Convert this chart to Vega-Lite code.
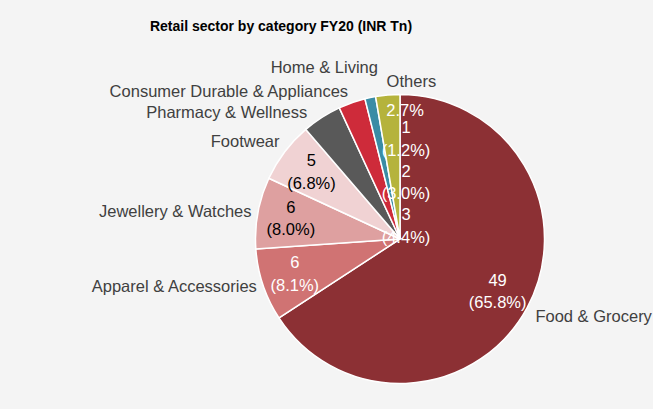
{
  "$schema": "https://vega.github.io/schema/vega-lite/v6.json",
  "width": 506,
  "height": 340,
  "autosize": {"type": "none"},
  "padding": {"left": 147, "top": 69, "right": 0, "bottom": 0},
  "background": "#F4F4F4",
  "config": {"view": {"stroke": null}, "text": {"font": "Liberation Sans"}},
  "title": {
    "text": "Retail sector by category FY20 (INR Tn)",
    "font": "Liberation Sans",
    "fontSize": 14,
    "fontWeight": "bold",
    "color": "#000000",
    "anchor": "middle",
    "frame": "group",
    "baseline": "alphabetic",
    "dx": -119,
    "offset": 12
  },
  "data": {
    "values": [
      {"order": 1, "category": "Food & Grocery", "value": 49, "share": 65.8, "label": "49\n(65.8%)"},
      {"order": 2, "category": "Apparel & Accessories", "value": 6, "share": 8.1, "label": "6\n(8.1%)"},
      {"order": 3, "category": "Jewellery & Watches", "value": 6, "share": 8.0, "label": "6\n(8.0%)"},
      {"order": 4, "category": "Footwear", "value": 5, "share": 6.8, "label": "5\n(6.8%)"},
      {"order": 5, "category": "Pharmacy & Wellness", "value": 3, "share": 4.4, "label": "3\n(4.4%)"},
      {"order": 6, "category": "Consumer Durable & Appliances", "value": 2, "share": 3.0, "label": "2\n(3.0%)"},
      {"order": 7, "category": "Home & Living", "value": 1, "share": 1.2, "label": "1\n(1.2%)"},
      {"order": 8, "category": "Others", "value": 2, "share": 2.7, "label": "2.7%"}
    ]
  },
  "layer": [
    {
      "mark": {"type": "arc", "outerRadius": 144.5, "stroke": "#FFFFFF", "strokeWidth": 1.5},
      "encoding": {
        "theta": {"field": "share", "type": "quantitative", "stack": true},
        "order": {"field": "order", "type": "quantitative"},
        "color": {
          "field": "category",
          "type": "nominal",
          "legend": null,
          "scale": {
            "domain": ["Food & Grocery", "Apparel & Accessories", "Jewellery & Watches", "Footwear", "Pharmacy & Wellness", "Consumer Durable & Appliances", "Home & Living", "Others"],
            "range": ["#8C3034", "#D07373", "#DEA0A0", "#F0D2D3", "#595959", "#CE2B3A", "#3A8CA5", "#B5B33C"]
          }
        }
      }
    },
    {
      "mark": {"type": "text", "radius": 111, "dy": -11, "fontSize": 16.5, "lineBreak": "\n", "lineHeight": 22.5, "align": "center", "baseline": "middle"},
      "encoding": {
        "theta": {"field": "share", "type": "quantitative", "stack": true},
        "order": {"field": "order", "type": "quantitative"},
        "detail": {"field": "category", "type": "nominal"},
        "text": {"condition": {"test": "datum.order <= 4", "field": "label"}, "value": ""},
        "color": {"condition": {"test": "datum.order == 3 || datum.order == 4", "value": "#000000"}, "value": "#FFFFFF"}
      }
    },
    {
      "mark": {"type": "text", "radius": 151, "fontSize": 16.5, "align": "right", "baseline": "middle", "color": "#404040"},
      "encoding": {
        "theta": {"field": "share", "type": "quantitative", "stack": true},
        "order": {"field": "order", "type": "quantitative"},
        "detail": {"field": "category", "type": "nominal"},
        "text": {"condition": {"test": "datum.order == 2 || datum.order == 3", "field": "category"}, "value": ""}
      }
    },
    {
      "mark": {"type": "text", "radius": 151, "dy": -6, "fontSize": 16.5, "align": "right", "baseline": "middle", "color": "#404040"},
      "encoding": {
        "theta": {"field": "share", "type": "quantitative", "stack": true},
        "order": {"field": "order", "type": "quantitative"},
        "detail": {"field": "category", "type": "nominal"},
        "text": {"condition": {"test": "datum.order == 4", "field": "category"}, "value": ""}
      }
    },
    {
      "mark": {"type": "text", "radius": 151, "dx": -11, "dy": 1, "fontSize": 16.5, "align": "right", "baseline": "middle", "color": "#404040"},
      "encoding": {
        "theta": {"field": "share", "type": "quantitative", "stack": true},
        "order": {"field": "order", "type": "quantitative"},
        "detail": {"field": "category", "type": "nominal"},
        "text": {"condition": {"test": "datum.order == 5", "field": "category"}, "value": ""}
      }
    },
    {
      "mark": {"type": "text", "radius": 156, "fontSize": 16.5, "align": "right", "baseline": "middle", "color": "#404040"},
      "encoding": {
        "theta": {"field": "share", "type": "quantitative", "stack": true},
        "order": {"field": "order", "type": "quantitative"},
        "detail": {"field": "category", "type": "nominal"},
        "text": {"condition": {"test": "datum.order == 6", "field": "category"}, "value": ""}
      }
    },
    {
      "mark": {"type": "text", "radius": 175, "dx": 14, "fontSize": 16.5, "align": "right", "baseline": "middle", "color": "#404040"},
      "encoding": {
        "theta": {"field": "share", "type": "quantitative", "stack": true},
        "order": {"field": "order", "type": "quantitative"},
        "detail": {"field": "category", "type": "nominal"},
        "text": {"condition": {"test": "datum.order == 7", "field": "category"}, "value": ""}
      }
    },
    {
      "mark": {"type": "text", "radius": 154, "dy": 5, "fontSize": 16.5, "align": "left", "baseline": "middle", "color": "#404040"},
      "encoding": {
        "theta": {"field": "share", "type": "quantitative", "stack": true},
        "order": {"field": "order", "type": "quantitative"},
        "detail": {"field": "category", "type": "nominal"},
        "text": {"condition": {"test": "datum.order == 1", "field": "category"}, "value": ""}
      }
    },
    {
      "mark": {"type": "text", "radius": 158, "fontSize": 16.5, "align": "left", "baseline": "middle", "color": "#404040"},
      "encoding": {
        "theta": {"field": "share", "type": "quantitative", "stack": true},
        "order": {"field": "order", "type": "quantitative"},
        "detail": {"field": "category", "type": "nominal"},
        "text": {"condition": {"test": "datum.order == 8", "field": "category"}, "value": ""}
      }
    },
    {
      "transform": [{"filter": "datum.order == 5"}],
      "mark": {"type": "text", "dx": 6, "dy": -24, "fontSize": 16.5, "lineBreak": "\n", "lineHeight": 22.5, "align": "center", "baseline": "middle", "color": "#FFFFFF"},
      "encoding": {"text": {"field": "label"}}
    },
    {
      "transform": [{"filter": "datum.order == 6"}],
      "mark": {"type": "text", "dx": 6, "dy": -67.5, "fontSize": 16.5, "lineBreak": "\n", "lineHeight": 22.5, "align": "center", "baseline": "middle", "color": "#FFFFFF"},
      "encoding": {"text": {"field": "label"}}
    },
    {
      "transform": [{"filter": "datum.order == 7"}],
      "mark": {"type": "text", "dx": 6, "dy": -111, "fontSize": 16.5, "lineBreak": "\n", "lineHeight": 22.5, "align": "center", "baseline": "middle", "color": "#FFFFFF"},
      "encoding": {"text": {"field": "label"}}
    },
    {
      "transform": [{"filter": "datum.order == 8"}],
      "mark": {"type": "text", "dx": 5, "dy": -128, "fontSize": 16.5, "align": "center", "baseline": "middle", "color": "#FFFFFF"},
      "encoding": {"text": {"field": "label"}}
    }
  ]
}
